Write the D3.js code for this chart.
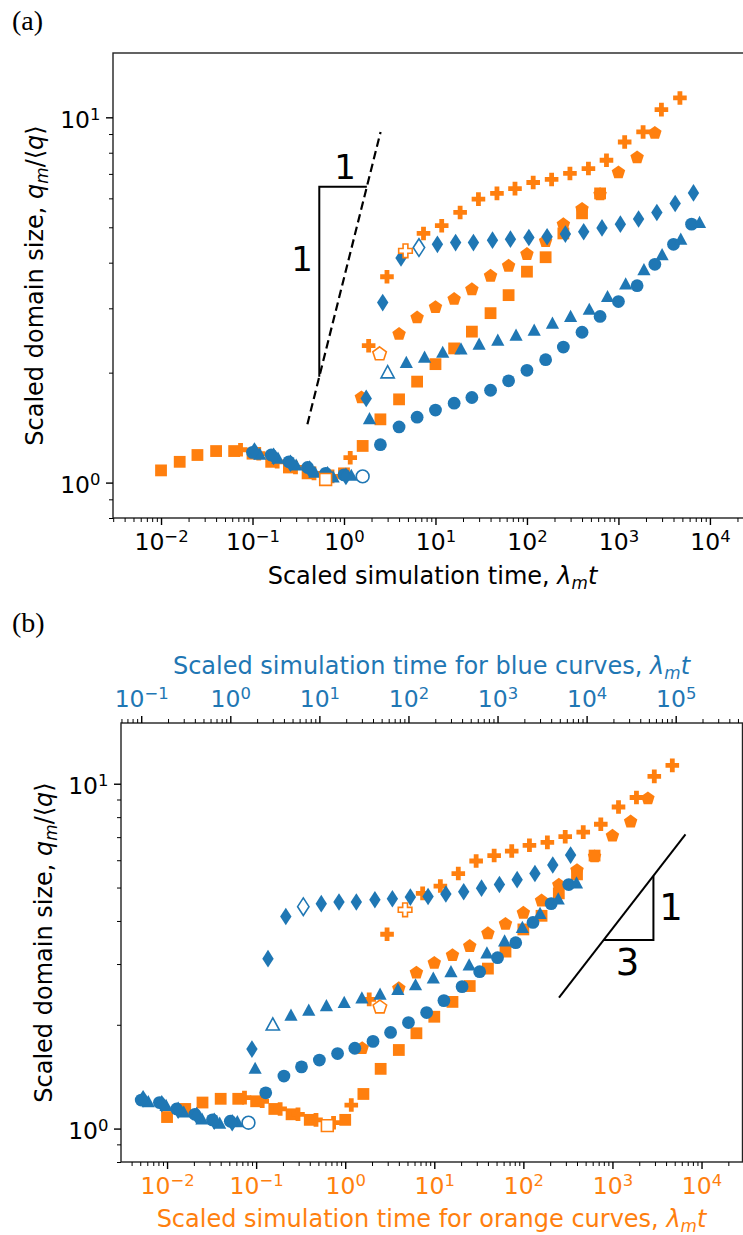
<!DOCTYPE html>
<html>
<head>
<meta charset="utf-8">
<script src="https://cdn.jsdelivr.net/npm/d3@7"></script>
<style>
  body { margin: 0; background: #fff; }
  svg { display: block; }
</style>
</head>
<body>
<div class="chart-container"></div>
<script>
// values: scaled time (lambda_m t) and scaled size q_m/<q>
// blue curves
const circT = [0.1, 0.16, 0.25, 0.4, 0.63, 1.0, 1.6, 2.5, 4.0, 6.3, 10, 16, 25, 40, 63, 100, 160, 250, 400, 630, 1000, 1600, 2500, 4000, 6300];
const circQ = [1.21, 1.19, 1.14, 1.10, 1.06, 1.05, 1.04, 1.27, 1.42, 1.51, 1.58, 1.65, 1.71, 1.79, 1.90, 2.03, 2.17, 2.35, 2.58, 2.85, 3.13, 3.46, 3.96, 4.49, 5.10];
const circHollow = 6;

const triT = [0.12, 0.19, 0.3, 0.48, 0.76, 1.2, 1.9, 3.0, 4.8, 7.6, 12, 19, 30, 48, 76, 120, 190, 300, 480, 760, 1200, 1900, 3000, 4800, 7700];
const triQ = [1.20, 1.17, 1.12, 1.07, 1.04, 1.05, 1.50, 2.01, 2.14, 2.21, 2.28, 2.33, 2.40, 2.46, 2.54, 2.62, 2.74, 2.86, 2.99, 3.24, 3.51, 3.84, 4.22, 4.65, 5.17];
const triHollow = 7;

const diaT = [0.105, 0.17, 0.26, 0.42, 0.66, 1.05, 1.75, 2.65, 4.2, 6.6, 10.5, 16.6, 26, 42, 66, 105, 166, 263, 417, 661, 1050, 1660, 2630, 4170, 6610];
const diaQ = [1.22, 1.18, 1.13, 1.09, 1.05, 1.04, 1.70, 3.11, 4.12, 4.40, 4.49, 4.54, 4.54, 4.61, 4.64, 4.69, 4.71, 4.79, 4.86, 4.98, 5.10, 5.27, 5.49, 5.81, 6.21];
const diaHollow = 9;

// orange curves
const sqT = [0.01, 0.016, 0.025, 0.04, 0.063, 0.1, 0.16, 0.25, 0.4, 0.63, 1.0, 1.6, 2.5, 4.0, 6.3, 10, 16, 25, 40, 63, 100, 160, 250, 400, 630];
const sqQ = [1.08, 1.14, 1.19, 1.22, 1.22, 1.20, 1.14, 1.10, 1.06, 1.02, 1.06, 1.26, 1.49, 1.69, 1.89, 2.11, 2.33, 2.59, 2.91, 3.26, 3.78, 4.14, 4.81, 5.46, 6.19];
const sqHollow = 9;

const pentT = [1.55, 2.45, 4.0, 6.3, 10, 16, 25, 40, 63, 100, 160, 250, 400, 630, 1000, 1600, 2500];
const pentQ = [1.71, 2.25, 2.55, 2.83, 3.02, 3.18, 3.38, 3.68, 3.92, 4.22, 4.58, 5.09, 5.61, 6.15, 7.06, 7.76, 9.06];
const pentHollow = 1;

const plusT = [0.074, 0.117, 0.186, 0.295, 0.47, 0.74, 1.17, 1.86, 2.95, 4.7, 7.4, 11.7, 18.6, 29.5, 47, 74, 117, 186, 295, 470, 740, 1170, 1860, 2950, 4700];
const plusQ = [1.23, 1.20, 1.14, 1.10, 1.06, 1.04, 1.17, 2.37, 3.66, 4.31, 4.81, 5.05, 5.49, 5.97, 6.19, 6.38, 6.63, 6.76, 7.02, 7.24, 7.63, 8.56, 9.12, 10.5, 11.3];
const plusHollow = 9;

// tick label exponents
const xTickExps = [-2, -1, 0, 1, 2, 3, 4];
const blueTickExps = [-1, 0, 1, 2, 3, 4, 5];
const yTickExps = [0, 1];

// blue time axis in (b) is the orange one times this factor
const blueShift = Math.pow(10, 1.29);

const BLUE = '#1f77b4', ORANGE = '#ff7f0e';

const svg = d3.select('.chart-container').append('svg')
  .attr('width', 743).attr('height', 1235)
  .attr('font-family', 'DejaVu Sans, sans-serif');

// marker shapes (centered)
const pent = d3.range(5).map(k => {
  const a = (-90 + 72 * k) * Math.PI / 180;
  return [7.1 * Math.cos(a), 7.1 * Math.sin(a)];
});
const ps = 6.8, pa = 2.4;
const markerPath = {
  circle: d3.symbol(d3.symbolCircle, Math.PI * 6.4 * 6.4)(),
  square: d3.symbol(d3.symbolSquare, 11.8 * 11.8)(),
  triangle: 'M0,-6.2L6.6,6L-6.6,6Z',
  diamond: 'M0,-8.8L5.7,0L0,8.8L-5.7,0Z',
  pentagon: 'M' + pent.map(p => p.join(',')).join('L') + 'Z',
  plus: `M${-pa},${-ps}L${pa},${-ps}L${pa},${-pa}L${ps},${-pa}L${ps},${pa}L${pa},${pa}L${pa},${ps}L${-pa},${ps}L${-pa},${pa}L${-ps},${pa}L${-ps},${-pa}L${-pa},${-pa}Z`
};

const series = [
  { t: sqT, q: sqQ, hollow: sqHollow, color: ORANGE, shape: 'square' },
  { t: pentT, q: pentQ, hollow: pentHollow, color: ORANGE, shape: 'pentagon' },
  { t: plusT, q: plusQ, hollow: plusHollow, color: ORANGE, shape: 'plus' },
  { t: circT, q: circQ, hollow: circHollow, color: BLUE, shape: 'circle' },
  { t: triT, q: triQ, hollow: triHollow, color: BLUE, shape: 'triangle' },
  { t: diaT, q: diaQ, hollow: diaHollow, color: BLUE, shape: 'diamond' }
];

function drawPoints(g, xFor, y) {
  const pts = series.flatMap(s => s.t.map((t, i) => ({ t, q: s.q[i], s, hollow: i === s.hollow })));
  const ordered = pts.filter(p => !p.hollow).concat(pts.filter(p => p.hollow));
  g.append('g').selectAll('path').data(ordered).join('path')
    .attr('transform', p => `translate(${xFor(p.s)(p.t)},${y(p.q)})`)
    .attr('d', p => markerPath[p.s.shape])
    .attr('fill', p => p.hollow ? '#fff' : p.s.color)
    .attr('stroke', p => p.hollow ? p.s.color : 'none')
    .attr('stroke-width', 1.6);
}

function expLabel(text, e) {
  text.text(null);
  text.append('tspan').text('10');
  text.append('tspan').attr('font-size', '70%').attr('dy', '-0.5em')
    .text(e < 0 ? '\u2212' + Math.abs(e) : String(e));
}

function isMajor(v) {
  const l = Math.log10(v);
  return Math.abs(l - Math.round(l)) < 1e-6;
}

function logAxis(g, orient, scale, offset, exps, color, pad) {
  const gen = { bottom: d3.axisBottom, top: d3.axisTop, left: d3.axisLeft }[orient];
  const tr = orient === 'left' ? `translate(${offset},0)` : `translate(0,${offset})`;
  const minors = scale.ticks().filter(v => !isMajor(v));
  const majors = exps.map(e => Math.pow(10, e));
  g.append('g').attr('transform', tr)
    .call(gen(scale).tickValues(minors).tickSize(4).tickFormat(() => ''))
    .call(a => a.select('.domain').remove())
    .call(a => a.selectAll('line').attr('stroke', '#000').attr('stroke-width', 1));
  const ax = g.append('g').attr('transform', tr)
    .call(gen(scale).tickValues(majors).tickSize(7).tickPadding(pad).tickFormat(() => ''))
    .attr('font-size', 23.5).attr('font-family', 'DejaVu Sans, sans-serif');
  ax.select('.domain').remove();
  ax.selectAll('line').attr('stroke', '#000').attr('stroke-width', 1.4);
  ax.selectAll('text').attr('fill', color).each(function (d, i) {
    const t = d3.select(this);
    if (orient === 'left') t.attr('dy', '0.43em');
    expLabel(t, exps[i]);
  });
}

function lambdaLabel(g, x, y, prefix, color) {
  const t = g.append('text').attr('x', x).attr('y', y)
    .attr('text-anchor', 'middle').attr('font-size', 24).attr('fill', color);
  t.append('tspan').text(prefix);
  t.append('tspan').attr('font-style', 'italic').text('\u03bb');
  t.append('tspan').attr('font-style', 'italic').attr('font-size', '70%').attr('dy', 5).text('m');
  t.append('tspan').attr('font-style', 'italic').attr('dy', -5).text('t');
}

function qLabel(g, x, y) {
  const t = g.append('text').attr('transform', `translate(${x},${y}) rotate(-90)`)
    .attr('text-anchor', 'middle').attr('font-size', 24).attr('fill', '#000');
  t.append('tspan').text('Scaled domain size, ');
  t.append('tspan').attr('font-style', 'italic').text('q');
  t.append('tspan').attr('font-style', 'italic').attr('font-size', '70%').attr('dy', 5).text('m');
  t.append('tspan').attr('dy', -5).text('/\u27e8');
  t.append('tspan').attr('font-style', 'italic').text('q');
  t.append('tspan').text('\u27e9');
}

function frame(g, x, y) {
  const [x0, x1] = x.range(), [y0, y1] = y.range();
  g.append('rect').attr('x', x0).attr('y', y1).attr('width', x1 - x0).attr('height', y0 - y1)
    .attr('fill', 'none').attr('stroke', '#222').attr('stroke-width', 1.4);
}

function slopeText(g, x, y, txt, size) {
  g.append('text').attr('x', x).attr('y', y).attr('text-anchor', 'middle')
    .attr('font-size', size).text(txt);
}

// ---------------- panel (a) ----------------
const xa = d3.scaleLog().domain([Math.pow(10, -2.525), Math.pow(10, 4.46)]).range([113, 752]);
const ya = d3.scaleLog().domain([0.8, 15]).range([518, 53]);
const ga = svg.append('g');

// slope-1 guide (dashed) with its triangle
const guideA = { t0: Math.pow(10, -0.4), t1: Math.pow(10, 0.4), q0: Math.pow(10, 0.16), slope: 1 };
const qOnA = t => guideA.q0 * Math.pow(t / guideA.t0, guideA.slope);
const cornerA = { t: Math.pow(10, -0.27), q: Math.pow(10, 0.81) };
ga.append('line')
  .attr('x1', xa(guideA.t0)).attr('y1', ya(guideA.q0))
  .attr('x2', xa(guideA.t1)).attr('y2', ya(qOnA(guideA.t1)))
  .attr('stroke', '#000').attr('stroke-width', 2.2).attr('stroke-dasharray', '8.5,4.5');
const tHitA = guideA.t0 * Math.pow(cornerA.q / guideA.q0, 1 / guideA.slope);
ga.append('path')
  .attr('d', d3.line()([[xa(cornerA.t), ya(qOnA(cornerA.t))], [xa(cornerA.t), ya(cornerA.q)], [xa(tHitA), ya(cornerA.q)]]))
  .attr('fill', 'none').attr('stroke', '#000').attr('stroke-width', 2);
slopeText(ga, 345, 179, '1', 34);
slopeText(ga, 302, 271, '1', 34);

drawPoints(ga, () => xa, ya);
frame(ga, xa, ya);
logAxis(ga, 'bottom', xa, 518, xTickExps, '#000', 8.5);
logAxis(ga, 'left', ya, 113, yTickExps, '#000', 5.5);
lambdaLabel(ga, 432.5, 584, 'Scaled simulation time, ', '#000');
qLabel(ga, 43, 285.5);
ga.append('text').attr('x', 12).attr('y', 30).attr('font-family', 'Liberation Serif, DejaVu Serif, serif')
  .attr('font-size', 28).text('(a)');

// ---------------- panel (b) ----------------
const xbO = d3.scaleLog().domain([Math.pow(10, -2.517), Math.pow(10, 4.46)]).range([121, 742.5]);
const xbB = d3.scaleLog().domain(xbO.domain().map(d => d * blueShift)).range([121, 742.5]);
const yb = d3.scaleLog().domain([0.8, 15]).range([1162, 723]);
const gb = svg.append('g');

// slope-1/3 guide (orange time axis) with its triangle
const guideB = { t0: Math.pow(10, 2.4), t1: Math.pow(10, 3.82), q0: Math.pow(10, 0.38), slope: 1 / 3 };
const qOnB = t => guideB.q0 * Math.pow(t / guideB.t0, guideB.slope);
const cornerB = { t: Math.pow(10, 3.46), q: Math.pow(10, 0.547) };
const tHitB = guideB.t0 * Math.pow(cornerB.q / guideB.q0, 1 / guideB.slope);
gb.append('line')
  .attr('x1', xbO(guideB.t0)).attr('y1', yb(guideB.q0))
  .attr('x2', xbO(guideB.t1)).attr('y2', yb(qOnB(guideB.t1)))
  .attr('stroke', '#000').attr('stroke-width', 2);
gb.append('path')
  .attr('d', d3.line()([[xbO(tHitB), yb(cornerB.q)], [xbO(cornerB.t), yb(cornerB.q)], [xbO(cornerB.t), yb(qOnB(cornerB.t))]]))
  .attr('fill', 'none').attr('stroke', '#000').attr('stroke-width', 2);
slopeText(gb, 671, 920, '1', 37);
slopeText(gb, 627.5, 975, '3', 37);

drawPoints(gb, s => (s.color === BLUE ? xbB : xbO), yb);
frame(gb, xbO, yb);
logAxis(gb, 'bottom', xbO, 1162, xTickExps, ORANGE, 8.5);
logAxis(gb, 'top', xbB, 723, blueTickExps, BLUE, 9);
logAxis(gb, 'left', yb, 121, yTickExps, '#000', 5.5);
lambdaLabel(gb, 431.5, 674, 'Scaled simulation time for blue curves, ', BLUE);
lambdaLabel(gb, 431.5, 1227, 'Scaled simulation time for orange curves, ', ORANGE);
qLabel(gb, 52, 942.5);
gb.append('text').attr('x', 12).attr('y', 632).attr('font-family', 'Liberation Serif, DejaVu Serif, serif')
  .attr('font-size', 28).text('(b)');
</script>
</body>
</html>
